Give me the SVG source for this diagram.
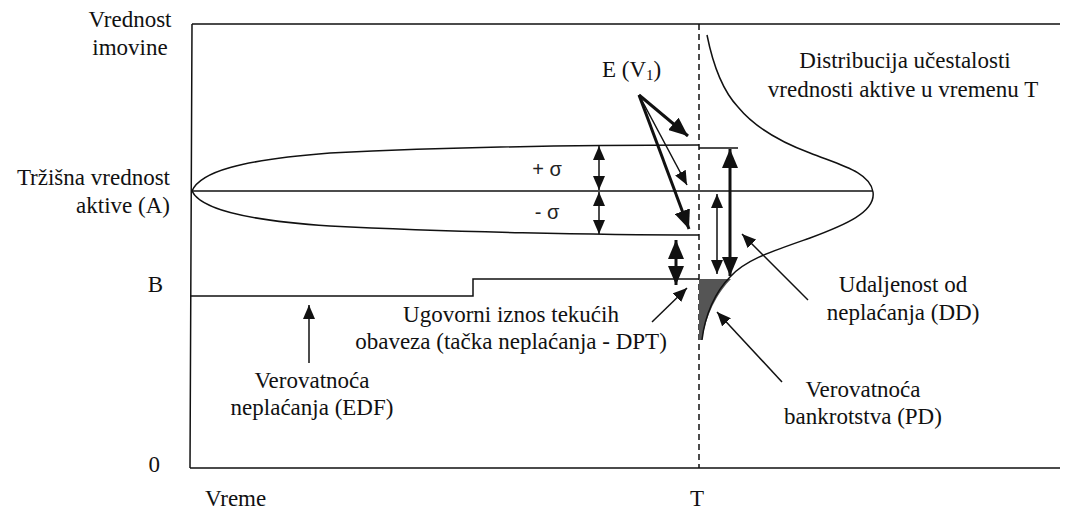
<svg xmlns="http://www.w3.org/2000/svg" width="1065" height="512" viewBox="0 0 1065 512">
<style>
.ln{fill:none;stroke:#111;stroke-width:1.5}
.bd{fill:none;stroke:#111;stroke-width:3}
</style>
<defs>
<marker id="ht" markerUnits="userSpaceOnUse" markerWidth="14" markerHeight="12" refX="14" refY="6" orient="auto-start-reverse"><path d="M0,0 L14,6 L0,12 z" fill="#111"/></marker>
<marker id="hb" markerUnits="userSpaceOnUse" markerWidth="19" markerHeight="16" refX="19" refY="8" orient="auto-start-reverse"><path d="M0,0 L19,8 L0,16 z" fill="#111"/></marker>
</defs>
<g id="frame">
<path class="ln" d="M192,24 L190,468 M192,24 L1060,24 M190,468 L1060,468"/>
<line x1="699" y1="24" x2="699" y2="468" stroke="#111" stroke-width="1.5" stroke-dasharray="6,4"/>
</g>
<g id="asset-value">
<path class="ln" d="M192,191 L873,191"/>
<path class="ln" d="M192,191 C200,172 240,160 330,153 C450,147 600,145 699,145"/>
<path class="ln" d="M192,191 C200,208 240,220 330,226 C450,232 600,235 699,235"/>
<path class="ln" d="M699,148 L738,148"/>
</g>
<g id="dpt-line">
<path class="ln" d="M190,296 L473,296 L473,279 L699,279"/>
</g>
<g id="distribution">
<path d="M699,279 L731,279 C720,290 707,310 702,340 L699,340 z" fill="#555"/>
<path class="ln" d="M707,35 C712,60 722,90 738,107 C752,124 775,140 810,153 C840,165 870,172 873,192 C876,212 845,225 810,238 C770,252 745,260 730,277 C715,292 705,315 702,340"/>
</g>
<g id="connectors">
<line class="ln" x1="599" y1="146" x2="599" y2="190" marker-start="url(#ht)" marker-end="url(#ht)"/>
<line class="ln" x1="599" y1="192" x2="599" y2="234" marker-start="url(#ht)" marker-end="url(#ht)"/>
<line class="bd" x1="676" y1="240" x2="676" y2="285" marker-start="url(#hb)" marker-end="url(#hb)"/>
<line class="bd" x1="730" y1="149" x2="730" y2="276" marker-start="url(#hb)" marker-end="url(#hb)"/>
<line class="ln" x1="717" y1="194" x2="717" y2="274" marker-start="url(#ht)" marker-end="url(#ht)"/>
<line class="bd" x1="639" y1="95" x2="688" y2="136" marker-end="url(#hb)"/>
<line class="ln" x1="639" y1="95" x2="687" y2="185" marker-end="url(#ht)"/>
<line class="bd" x1="639" y1="95" x2="689" y2="229" marker-end="url(#hb)"/>
<line class="ln" x1="309" y1="363" x2="309" y2="305" marker-end="url(#ht)"/>
<line class="ln" x1="652" y1="322" x2="687" y2="288" marker-end="url(#ht)"/>
<line class="ln" x1="808" y1="300" x2="742" y2="234" marker-end="url(#ht)"/>
<line class="ln" x1="782" y1="382" x2="717" y2="312" marker-end="url(#ht)"/>
</g>
<g id="labels" fill="#111" font-size="23">
<text style="font-family:'Liberation Serif',serif" x="130" y="27" text-anchor="middle">Vrednost</text>
<text style="font-family:'Liberation Serif',serif" x="130" y="55" text-anchor="middle">imovine</text>
<text style="font-family:'Liberation Serif',serif" x="170" y="185" text-anchor="end">Tržišna vrednost</text>
<text style="font-family:'Liberation Serif',serif" x="170" y="213" text-anchor="end">aktive (A)</text>
<text style="font-family:'Liberation Serif',serif" x="163" y="292" text-anchor="end">B</text>
<text style="font-family:'Liberation Serif',serif" x="160" y="472" text-anchor="end">0</text>
<text style="font-family:'Liberation Serif',serif" x="205" y="506">Vreme</text>
<text style="font-family:'Liberation Serif',serif" x="697" y="506" text-anchor="middle">T</text>
<text style="font-family:'Liberation Serif',serif" x="602" y="77">E (V<tspan font-size="15" dy="3">1</tspan><tspan dy="-3">)</tspan></text>
<text style="font-family:'Liberation Serif',serif" x="905" y="68" text-anchor="middle">Distribucija učestalosti</text>
<text style="font-family:'Liberation Serif',serif" x="903" y="97" text-anchor="middle">vrednosti aktive u vremenu T</text>
<text style="font-family:'Liberation Sans',sans-serif" font-size="20" fill="#222" x="547" y="176" text-anchor="middle">+ σ</text>
<text style="font-family:'Liberation Sans',sans-serif" font-size="20" fill="#222" x="547" y="219" text-anchor="middle">- σ</text>
<text style="font-family:'Liberation Serif',serif" x="511" y="322" text-anchor="middle">Ugovorni iznos tekućih</text>
<text style="font-family:'Liberation Serif',serif" x="511" y="349" text-anchor="middle">obaveza (tačka neplaćanja - DPT)</text>
<text style="font-family:'Liberation Serif',serif" x="312" y="388" text-anchor="middle">Verovatnoća</text>
<text style="font-family:'Liberation Serif',serif" x="312" y="415" text-anchor="middle">neplaćanja (EDF)</text>
<text style="font-family:'Liberation Serif',serif" x="903" y="292" text-anchor="middle">Udaljenost od</text>
<text style="font-family:'Liberation Serif',serif" x="903" y="320" text-anchor="middle">neplaćanja (DD)</text>
<text style="font-family:'Liberation Serif',serif" x="863" y="397" text-anchor="middle">Verovatnoća</text>
<text style="font-family:'Liberation Serif',serif" x="863" y="424" text-anchor="middle">bankrotstva (PD)</text>
</g>
</svg>
